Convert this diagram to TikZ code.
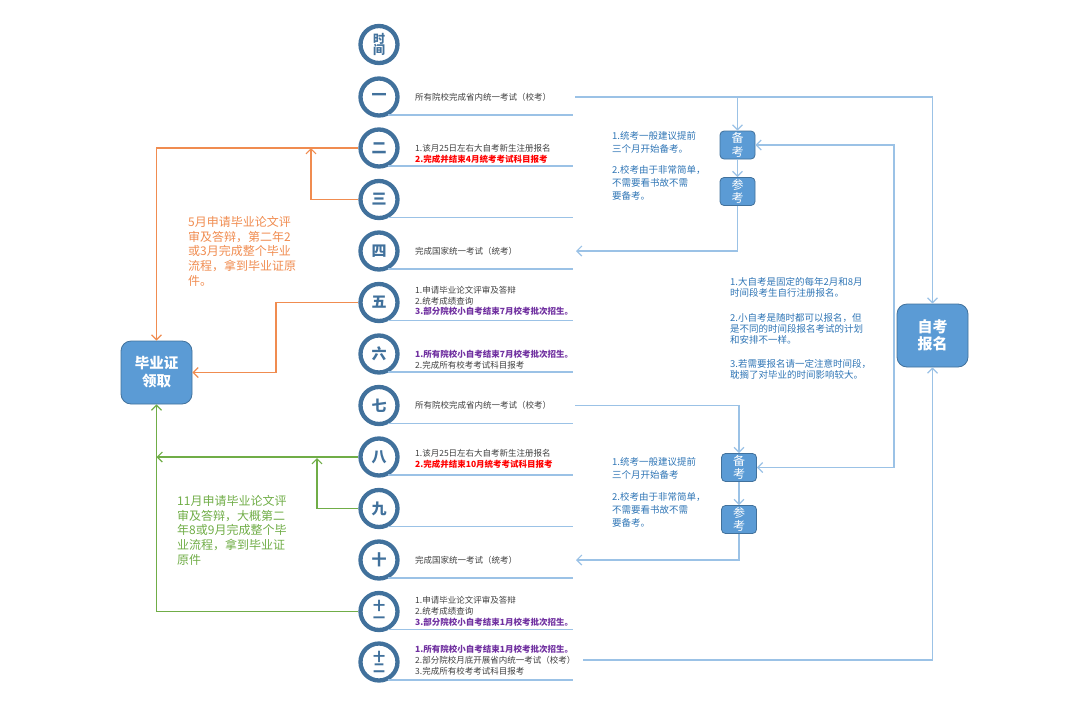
\documentclass[tikz,border=0pt]{standalone}
\usepackage{fontspec}
\setmainfont{Noto Sans CJK SC}
\usetikzlibrary{arrows.meta}

\definecolor{ringblue}{RGB}{65,113,156}
\definecolor{boxblue}{RGB}{91,155,213}
\definecolor{lineblue}{RGB}{155,194,230}
\definecolor{noteblue}{RGB}{47,117,181}
\definecolor{rowgray}{RGB}{64,64,64}
\definecolor{oline}{RGB}{240,140,80}
\definecolor{gline}{RGB}{112,173,71}
\definecolor{purp}{RGB}{112,48,160}

\begin{document}
\begin{tikzpicture}[x=1pt, y=-1pt,
  >={Straight Barb[length=5pt,width=10pt]},
  month/.style={circle, draw=ringblue, line width=4.3pt, fill=white, minimum size=37pt,
    inner sep=0pt, text=ringblue, align=center, font=\fontsize{15}{15}\selectfont\bfseries},
  month2/.style={month, font=\fontsize{12}{12.5}\selectfont\bfseries},
  rowtext/.style={anchor=west, align=left, inner sep=0pt, text=rowgray,
    font=\fontsize{8.5}{10.8}\selectfont},
  uline/.style={draw=lineblue, line width=1.2pt},
  flow/.style={draw=lineblue, line width=1.2pt},
  minibox/.style={draw=ringblue, fill=boxblue, rounded corners=4pt, line width=0.8pt,
    minimum width=35pt, minimum height=28pt, inner sep=0pt, text=white, align=center,
    font=\fontsize{12}{13.5}\selectfont},
  bigbox/.style={draw=ringblue, fill=boxblue, rounded corners=10pt, line width=0.8pt,
    minimum width=71pt, minimum height=63pt, inner sep=0pt, text=white, align=center,
    font=\fontsize{15}{17.5}\selectfont\bfseries},
  note/.style={anchor=north west, align=left, inner sep=0pt, text=noteblue,
    font=\fontsize{9.5}{13}\selectfont},
  otext/.style={anchor=north west, align=left, inner sep=0pt, text=oline,
    font=\fontsize{12}{14.7}\selectfont}]
\useasboundingbox (0,0) rectangle (1080,705);

% ---- month column ----
\node[month2] (m0)  at (379,44.5)  {时\\[-1pt]间};
\node[month]  (m1)  at (379,97)    {一};
\node[month]  (m2)  at (379,148)   {二};
\node[month]  (m3)  at (379,199.5) {三};
\node[month]  (m4)  at (379,251)   {四};
\node[month]  (m5)  at (379,302.5) {五};
\node[month]  (m6)  at (379,354)   {六};
\node[month]  (m7)  at (379,405.5) {七};
\node[month]  (m8)  at (379,457)   {八};
\node[month]  (m9)  at (379,508.5) {九};
\node[month]  (m10) at (379,560)   {十};
\node[month2] (m11) at (379,611.5) {十\\[-1pt]一};
\node[month2] (m12) at (379,662)   {十\\[-1pt]二};

% underline of every month row
\foreach \m in {m1,m2,m3,m4,m5,m6,m7,m8,m9,m10,m11,m12}
  \draw[uline] ([xshift=9pt,yshift=-18pt]\m.center) -- ++(185,0);

% ---- what happens in each month ----
\node[rowtext] (r1)  at (415,97)    {所有院校完成省内统一考试（校考）};
\node[rowtext] (r2)  at (415,153.5) {1.该月25日左右大自考新生注册报名\\
  {\color{red}\bfseries 2.完成并结束4月统考考试科目报考}};
\node[rowtext] (r4)  at (415,251)   {完成国家统一考试（统考）};
\node[rowtext] (r5)  at (415,301)   {1.申请毕业论文评审及答辩\\2.统考成绩查询\\
  {\color{purp}\bfseries 3.部分院校小自考结束7月校考批次招生。}};
\node[rowtext] (r6)  at (415,359.5) {{\color{purp}\bfseries 1.所有院校小自考结束7月校考批次招生。}\\
  2.完成所有校考考试科目报考};
\node[rowtext] (r7)  at (415,405.5) {所有院校完成省内统一考试（校考）};
\node[rowtext] (r8)  at (415,458.5) {1.该月25日左右大自考新生注册报名\\
  {\color{red}\bfseries 2.完成并结束10月统考考试科目报考}};
\node[rowtext] (r10) at (415,560)   {完成国家统一考试（统考）};
\node[rowtext] (r11) at (415,611.5) {1.申请毕业论文评审及答辩\\2.统考成绩查询\\
  {\color{purp}\bfseries 3.部分院校小自考结束1月校考批次招生。}};
\node[rowtext] (r12) at (415,660)   {{\color{purp}\bfseries 1.所有院校小自考结束1月校考批次招生。}\\
  2.部分院校月底开展省内统一考试（校考）\\3.完成所有校考考试科目报考};

% ---- exam prep boxes (right) ----
\node[minibox] (bk1) at (737.5,145)   {备\\考};
\node[minibox] (ck1) at (737.5,191.5) {参\\考};
\node[minibox] (bk2) at (739,467.5)   {备\\考};
\node[minibox] (ck2) at (739,519.5)   {参\\考};
\node[bigbox]  (zk)  at (932.5,335.5) {自考\\报名};

\node[note] (n1) at (612,131) {1.统考一般建议提前\\三个月开始备考。\\[8pt]
  2.校考由于非常简单，\\不需要看书故不需\\要备考。};
\node[note] (n2) at (612,457) {1.统考一般建议提前\\三个月开始备考\\[9pt]
  2.校考由于非常简单，\\不需要看书故不需\\要备考。};
\node[note, font=\fontsize{9.5}{10.8}\selectfont] (n3) at (730,277)
  {1.大自考是固定的每年2月和8月\\时间段考生自行注册报名。\\[15pt]
   2.小自考是随时都可以报名，但\\是不同的时间段报名考试的计划\\和安排不一样。\\[13pt]
   3.若需要报名请一定注意时间段，\\耽搁了对毕业的时间影响较大。};

% ---- blue connectors ----
\coordinate (s1)  at (575,97);
\coordinate (s7)  at (575,405.5);
\coordinate (s12) at (583,660);
\coordinate (e4)  at (576,251);
\coordinate (e10) at (576,560);
\coordinate (rail) at (894,335.5);
\draw[flow,->] (s1) -| (zk.north);
\draw[flow,->] (s1 -| bk1.north) -- (bk1.north);
\draw[flow,->] (bk1.south) -- (ck1.north);
\draw[flow,->] (ck1.south) |- (e4);
\draw[flow,->] (s7) -| (bk2.north);
\draw[flow,->] (bk2.south) -- (ck2.north);
\draw[flow,->] (ck2.south) |- (e10);
\draw[flow,->] (rail) |- (bk1.east);
\draw[flow,->] (rail) |- (bk2.east);
\draw[flow,->] (s12) -| (zk.south);

% ---- diploma box (left) ----
\node[bigbox, font=\fontsize{14.5}{18}\selectfont\bfseries] (bz) at (156.5,372.5) {毕业证\\领取};

% orange: spring round
\coordinate (ojoin) at (311,148);
\coordinate (obend) at (276,340);
\draw[oline, line width=1.2pt, ->] (m2.west) -| (bz.north);
\draw[oline, line width=1.2pt, ->] (m3.west) -| (ojoin);
\draw[oline, line width=1.2pt, ->] (m5.west) -| (obend) |- (bz.east);
\node[otext] (ot) at (188,216) {5月申请毕业论文评\\审及答辩，第二年2\\或3月完成整个毕业\\流程，拿到毕业证原\\件。};

% green: autumn round
\coordinate (gjoin) at (317,458);
\draw[gline, line width=1.2pt, ->] (m11.west) -| (bz.south);
\draw[gline, line width=1.2pt, ->] (m8.west) -- (m8.west -| bz.south);
\draw[gline, line width=1.2pt, ->] (m9.west) -| (gjoin);
\node[otext, text=gline] (gt) at (177,495) {11月申请毕业论文评\\审及答辩，大概第二\\年8或9月完成整个毕\\业流程，拿到毕业证\\原件};
\end{tikzpicture}
\end{document}
